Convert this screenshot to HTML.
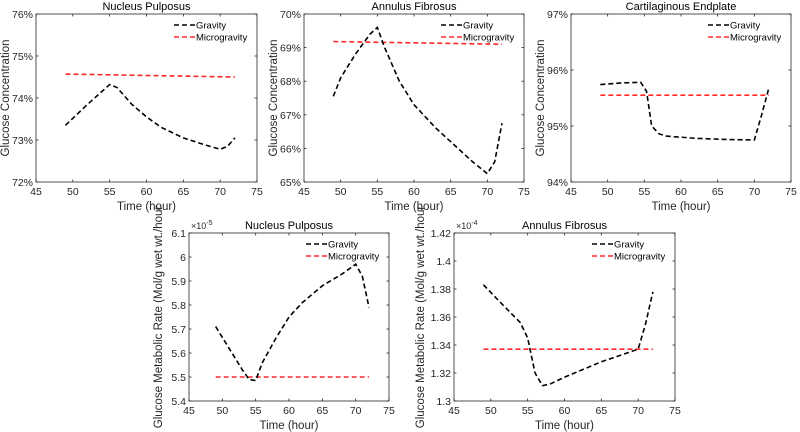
<!DOCTYPE html>
<html><head><meta charset="utf-8">
<style>
body{margin:0;background:#fff;}
svg{display:block;font-family:"Liberation Sans",Arial,sans-serif;}
</style></head>
<body>
<svg id="fig" width="800" height="432" viewBox="0 0 800 432" xmlns="http://www.w3.org/2000/svg"></svg>
<script>
// Panel A: Nucleus Pulposus concentration
const npConcT = [49,52,55,56,58,60,62,65,68,70,71,72];
const npConcGravity = [73.35,73.85,74.32,74.25,73.85,73.55,73.3,73.05,72.88,72.78,72.85,73.05];
const npConcMicroT = [49,72];
const npConcMicro = [74.57,74.5];
const npConcYTicks = [72,73,74,75,76];
// Panel B: Annulus Fibrosus concentration
const afConcT = [49,50,52,54,55,56,58,60,63,66,68,70,71,72];
const afConcGravity = [67.55,68.1,68.8,69.4,69.6,69.0,68.0,67.3,66.6,66.0,65.6,65.25,65.6,66.75];
const afConcMicroT = [49,72];
const afConcMicro = [69.18,69.1];
const afConcYTicks = [65,66,67,68,69,70];
// Panel C: Cartilaginous Endplate concentration
const ceConcT = [49,52,54.5,55.3,56,57,58,62,66,70,71,72];
const ceConcGravity = [95.74,95.77,95.78,95.62,95.0,94.86,94.82,94.78,94.76,94.75,95.2,95.69];
const ceConcMicroT = [49,72];
const ceConcMicro = [95.55,95.55];
const ceConcYTicks = [94,95,96,97];
// Panel D: Nucleus Pulposus metabolic rate (x1e-5)
const npRateT = [49,51,53,54,55,56,58,60,62,65,68,70,71,72];
const npRateGravity = [5.71,5.62,5.53,5.49,5.485,5.56,5.66,5.75,5.81,5.88,5.93,5.97,5.92,5.79];
const npRateMicroT = [49,72];
const npRateMicro = [5.5,5.5];
const npRateYTicks = [5.4,5.5,5.6,5.7,5.8,5.9,6,6.1];
// Panel E: Annulus Fibrosus metabolic rate (x1e-4)
const afRateT = [49,51,54,55,56,57,58,60,65,70,71,72];
const afRateGravity = [1.383,1.372,1.356,1.345,1.32,1.311,1.312,1.317,1.328,1.337,1.355,1.378];
const afRateMicroT = [49,72];
const afRateMicro = [1.337,1.337];
const afRateYTicks = [1.3,1.32,1.34,1.36,1.38,1.4,1.42];
const xTicks = [45,50,55,60,65,70,75];

const NS="http://www.w3.org/2000/svg";
const fig=document.getElementById('fig');
function mk(tag,attrs,parent){const e=document.createElementNS(NS,tag);for(const k in attrs)e.setAttribute(k,attrs[k]);(parent||fig).appendChild(e);return e;}

function panel(o){
  const g=mk('g',{});
  
  
  const {x0,x1,y0,y1}=o;
  const ymin=o.yt[0],ymax=o.yt[o.yt.length-1];
  const sx=v=>x0+(v-45)/30*(x1-x0);
  const sy=v=>y1-(v-ymin)/(ymax-ymin)*(y1-y0);
  const box=mk('rect',{x:x0,y:y0,width:x1-x0,height:y1-y0,fill:'#fff',stroke:'#262626','stroke-width':0.8},g);
  
  
  xTicks.forEach(t=>{
    const x=sx(t);
    mk('line',{x1:x,x2:x,y1:y1,y2:y1-2.5,stroke:'#262626','stroke-width':0.8},g);
    mk('line',{x1:x,x2:x,y1:y0,y2:y0+2.5,stroke:'#262626','stroke-width':0.8},g);
    const tx=mk('text',{x:x,y:y1+13,'font-size':10.5,'text-anchor':'middle',fill:'#262626'},g);
    
    
    tx.textContent=t;
  });
  o.yt.forEach(t=>{
    const y=sy(t);
    mk('line',{x1:x0,x2:x0+2.5,y1:y,y2:y,stroke:'#262626','stroke-width':0.8},g);
    mk('line',{x1:x1,x2:x1-2.5,y1:y,y2:y,stroke:'#262626','stroke-width':0.8},g);
    const tx=mk('text',{x:x0-3,y:y+4,'font-size':10.5,'text-anchor':'end',fill:'#262626'},g);
    
    
    tx.textContent=o.fmt(t);
  });
  const ti=mk('text',{x:(x0+x1)/2,y:y0-4,'font-size':11,'text-anchor':'middle',fill:'#000'},g);
  
  
  ti.textContent=o.title;
  const xl=mk('text',{x:(x0+x1)/2,y:y1+28,'font-size':11.5,'text-anchor':'middle',fill:'#262626'},g);
  
  
  xl.textContent='Time (hour)';
  const cy=(y0+y1)/2;
  const yl=mk('text',{x:o.ylx,y:cy,'font-size':11.5,'text-anchor':'middle',fill:'#262626',transform:`rotate(-90 ${o.ylx} ${cy})`},g);
  
  
  yl.textContent=o.ylabel;
  if(o.exp){
    const ex=mk('text',{x:x0+2,y:y0-4,'font-size':9,fill:'#262626'},g);
    
    
    ex.innerHTML='×10<tspan dy="-4" font-size="7">'+o.exp+'</tspan>';
  }
  const mic=mk('polyline',{points:o.mt.map((t,i)=>sx(t)+','+sy(o.mv[i])).join(' '),fill:'none',stroke:'#ff2a2a','stroke-width':1.6,'stroke-dasharray':'5,3'},g);
  
  
  const gr=mk('polyline',{points:o.t.map((t,i)=>sx(t)+','+sy(o.g[i])).join(' '),fill:'none',stroke:'#000','stroke-width':1.6,'stroke-dasharray':'5,3'},g);
  
  
  const lg=mk('g',{},g);
  
  
  const lx=x1-83;
  [['Gravity','#000',y0+11],['Microgravity','#ff2a2a',y0+23]].forEach(([n,c,y])=>{
    mk('line',{x1:lx,x2:lx+22,y1:y,y2:y,stroke:c,'stroke-width':1.6,'stroke-dasharray':'5,3'},lg);
    const t=mk('text',{x:lx+22,y:y+3.5,'font-size':9.5,fill:'#000'},lg);
    
    
    t.textContent=n;
  });
}
const pct=v=>v+'%';
panel({name:'np-concentration-chart',x0:36,x1:257,y0:14,y1:182,yt:npConcYTicks,fmt:pct,title:'Nucleus Pulposus',ylabel:'Glucose Concentration',ylx:9,t:npConcT,g:npConcGravity,mt:npConcMicroT,mv:npConcMicro});
panel({name:'af-concentration-chart',x0:304,x1:524,y0:14,y1:182,yt:afConcYTicks,fmt:pct,title:'Annulus Fibrosus',ylabel:'Glucose Concentration',ylx:277,t:afConcT,g:afConcGravity,mt:afConcMicroT,mv:afConcMicro});
panel({name:'ce-concentration-chart',x0:571,x1:791,y0:14,y1:182,yt:ceConcYTicks,fmt:pct,title:'Cartilaginous Endplate',ylabel:'Glucose Concentration',ylx:544,t:ceConcT,g:ceConcGravity,mt:ceConcMicroT,mv:ceConcMicro});
panel({name:'np-rate-chart',x0:189,x1:389,y0:233,y1:401,yt:npRateYTicks,fmt:v=>String(v),title:'Nucleus Pulposus',ylabel:'Glucose Metabolic Rate (Mol/g wet wt./hour',ylx:162,exp:'-5',t:npRateT,g:npRateGravity,mt:npRateMicroT,mv:npRateMicro});
panel({name:'af-rate-chart',x0:454,x1:675,y0:233,y1:401,yt:afRateYTicks,fmt:v=>String(v),title:'Annulus Fibrosus',ylabel:'Glucose Metabolic Rate (Mol/g wet wt./hour',ylx:424,exp:'-4',t:afRateT,g:afRateGravity,mt:afRateMicroT,mv:afRateMicro});
</script>
</body></html>
